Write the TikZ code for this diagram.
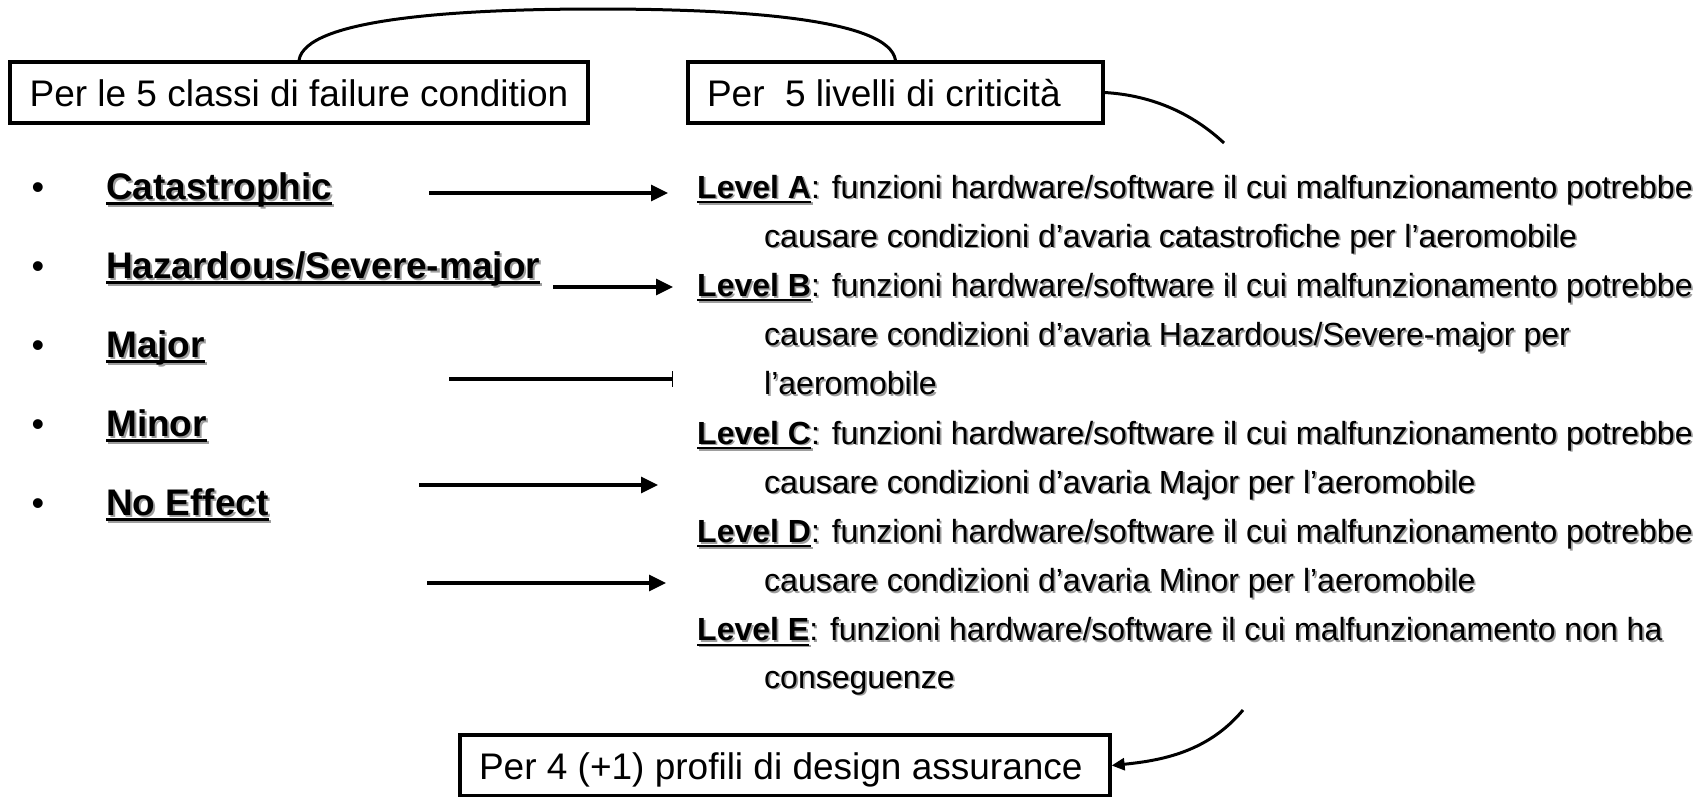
\documentclass[tikz,border=0pt]{standalone}
\usepackage{fontspec}
\setmainfont{Liberation Sans}
\usetikzlibrary{arrows.meta}
\definecolor{shadowgray}{gray}{0.62}
% underline at a fixed depth below the baseline
\newcommand\ulx[1]{\setbox0\hbox{#1}\rlap{\vrule height -0.085em depth 0.15em width \wd0}\box0}
% text with a soft grey drop shadow
\newcommand\shad[1]{\leavevmode\rlap{\kern0.055em\raisebox{-0.055em}{\color{shadowgray}#1}}#1}
\begin{document}
\begin{tikzpicture}[x=1pt,y=-1pt,
  box/.style={draw, line width=3.2pt, inner xsep=19pt, inner ysep=0pt,
    minimum height=61pt, text height=27pt, text depth=0pt,
    font=\fontsize{37}{44}\selectfont},
  lvl/.style={anchor=base west, inner sep=0pt, font=\fontsize{32}{38}\selectfont},
  item/.style={anchor=base west, inner sep=0pt, font=\fontsize{37}{44}\selectfont\bfseries},
  dot/.style={anchor=base, inner sep=0pt, font=\fontsize{36}{42}\selectfont},
  conn/.style={line width=3.2pt},
  arr/.style={conn, -{Triangle[length=17pt,width=16pt]}},
  curv/.style={line width=3pt}]
\useasboundingbox (0,0) rectangle (1707,796);

% headline boxes
\node[box] (b1) at (299,92.5) {\makebox[540pt][c]{Per le 5 classi di failure condition}};
\node[box] (b2) at (895.5,92.5) {\makebox[377pt][l]{Per\ \ 5 livelli di criticit\`a}};
\node[box] (b3) at (785,765.5) {\makebox[612pt][l]{Per 4 (+1) profili di design assurance}};

% failure condition classes
\foreach \y/\n in {199/1,278/2,357/3,436/4,515/5}
  \node[dot] (d\n) at (38,\y) {•};
\node[item] (i1) at (106,199) {\shad{\ulx{Catastrophic}}};
\node[item] (i2) at (106,278) {\shad{\ulx{Hazardous/Severe-major}}};
\node[item] (i3) at (106,357) {\shad{\ulx{Major}}};
\node[item] (i4) at (106,436) {\shad{\ulx{Minor}}};
\node[item] (i5) at (106,515) {\shad{\ulx{No Effect}}};

% criticality levels
\node[lvl] (la) at (697,198) {\shad{\ulx{\bfseries Level A}: funzioni hardware/software il cui malfunzionamento potrebbe}};
\node[lvl] (la2) at (764,247.2) {\shad{causare condizioni d’avaria catastrofiche per l’aeromobile}};
\node[lvl] (lb) at (697,296.4) {\shad{\ulx{\bfseries Level B}: funzioni hardware/software il cui malfunzionamento potrebbe}};
\node[lvl] (lb2) at (764,345.6) {\shad{causare condizioni d’avaria Hazardous/Severe-major per}};
\node[lvl] (lb3) at (764,394.8) {\shad{l’aeromobile}};
\node[lvl] (lc) at (697,444) {\shad{\ulx{\bfseries Level C}: funzioni hardware/software il cui malfunzionamento potrebbe}};
\node[lvl] (lc2) at (764,493.2) {\shad{causare condizioni d’avaria Major per l’aeromobile}};
\node[lvl] (ld) at (697,542.4) {\shad{\ulx{\bfseries Level D}: funzioni hardware/software il cui malfunzionamento potrebbe}};
\node[lvl] (ld2) at (764,591.6) {\shad{causare condizioni d’avaria Minor per l’aeromobile}};
\node[lvl] (le) at (697,640.8) {\shad{\ulx{\bfseries Level E}: funzioni hardware/software il cui malfunzionamento non ha}};
\node[lvl] (le2) at (764,688) {\shad{conseguenze}};

% horizontal pointers
\coordinate (a1s) at (429,193); \coordinate (a1e) at (668,193);
\coordinate (a2s) at (553,287); \coordinate (a2e) at (673,287);
\coordinate (a3s) at (449,379); \coordinate (a3e) at (673,379);
\coordinate (a4s) at (419,485); \coordinate (a4e) at (658,485);
\coordinate (a5s) at (427,583); \coordinate (a5e) at (666,583);
\draw[arr] (a1s) -- (a1e);
\draw[arr] (a2s) -- (a2e);
\draw[conn, -{Bar[width=16pt,line width=1pt]}] (a3s) -- (a3e);
\draw[arr] (a4s) -- (a4e);
\draw[arr] (a5s) -- (a5e);

% curved links between the boxes
\coordinate (arctop) at (598,9);
\draw[curv] (b1.north) .. controls +(6,-42) and +(-140,0) .. (arctop)
            .. controls +(140,0) and +(-6,-42) .. (b2.north);
\coordinate (rc) at (1224,143);
\draw[curv] (b2.east) .. controls +(50,3) and +(-30,-28) .. (rc);
\coordinate (bc) at (1243,710);
\draw[curv, -{Triangle[length=13pt,width=12pt]}] (bc) .. controls +(-35,42) and +(50,-5) .. (b3.east);
\end{tikzpicture}
\end{document}
